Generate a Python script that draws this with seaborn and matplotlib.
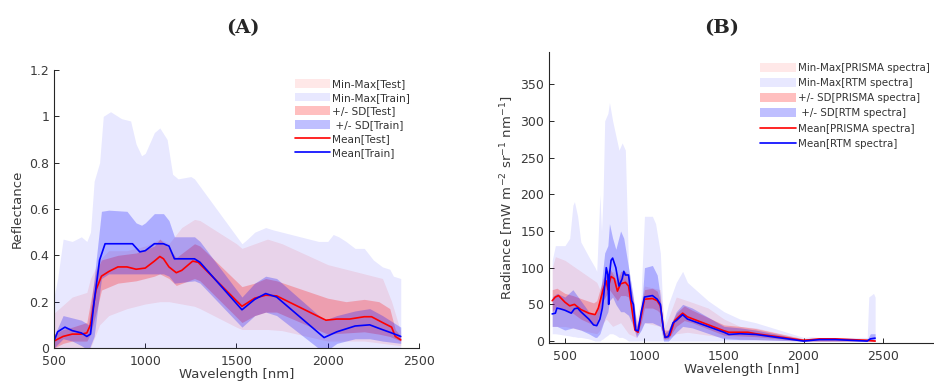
import matplotlib
matplotlib.use("Agg")
import matplotlib.pyplot as plt
import seaborn as sns
import pandas as pd

# -------------------------------
# Panel A data (reflectance)
# -------------------------------
a_mean_test_wl = [500, 550, 600, 650, 680, 700, 730, 760, 800, 850, 900, 950, 1000, 1050, 1080, 1100,
                  1130, 1170, 1200, 1260, 1290, 1530, 1600, 1660, 1720, 1990, 2050, 2120, 2200, 2240,
                  2300, 2350, 2370, 2400]
a_mean_test = [0.03, 0.05, 0.06, 0.06, 0.065, 0.10, 0.25, 0.31, 0.33, 0.35, 0.35, 0.34, 0.345, 0.375, 0.395,
               0.385, 0.35, 0.325, 0.335, 0.375, 0.37, 0.18, 0.215, 0.228, 0.225, 0.12, 0.125, 0.125, 0.135,
               0.135, 0.11, 0.09, 0.05, 0.035]

a_mean_train_wl = [500, 520, 560, 600, 650, 680, 700, 720, 750, 780, 850, 930, 970, 1000, 1050, 1100, 1130,
                   1160, 1200, 1270, 1300, 1530, 1600, 1660, 1720, 1980, 2050, 2150, 2230, 2280, 2350, 2400]
a_mean_train = [0.03, 0.07, 0.09, 0.075, 0.065, 0.05, 0.06, 0.20, 0.38, 0.45, 0.45, 0.45, 0.415, 0.42, 0.45,
                0.45, 0.44, 0.385, 0.385, 0.385, 0.37, 0.165, 0.21, 0.235, 0.22, 0.045, 0.07, 0.095, 0.10,
                0.085, 0.065, 0.05]

a_mm_train_wl = [500, 520, 550, 600, 650, 680, 700, 720, 750, 770, 810, 870, 920, 950, 980, 1000, 1050, 1080,
                 1120, 1150, 1180, 1250, 1270, 1530, 1560, 1600, 1660, 1700, 1950, 2000, 2030, 2060, 2100,
                 2150, 2200, 2250, 2300, 2340, 2360, 2400]
a_mm_train_hi = [0.22, 0.30, 0.47, 0.46, 0.48, 0.46, 0.50, 0.72, 0.80, 1.00, 1.02, 0.99, 0.98, 0.88, 0.83,
                 0.84, 0.93, 0.95, 0.90, 0.75, 0.73, 0.74, 0.73, 0.45, 0.47, 0.50, 0.52, 0.51, 0.46, 0.46,
                 0.49, 0.48, 0.46, 0.43, 0.43, 0.38, 0.35, 0.34, 0.31, 0.30]
a_mm_train_lo = [0.0, 0.0, 0.0, 0.0, 0.0, -0.01, -0.02, -0.01, 0.0, 0.0, 0.0, 0.0, 0.0, 0.0, 0.0, 0.0, 0.0,
                 0.0, 0.0, 0.0, 0.0, 0.0, 0.0, 0.0, 0.0, 0.0, 0.0, 0.0, -0.01, -0.02, -0.01, 0.0, 0.0, 0.0,
                 0.0, 0.0, 0.0, 0.0, 0.0, 0.0]

a_mm_test_wl = [500, 600, 680, 700, 750, 800, 900, 1000, 1080, 1130, 1200, 1270, 1300, 1500, 1530, 1600,
                1670, 1750, 2000, 2100, 2200, 2300, 2350, 2400]
a_mm_test_hi = [0.15, 0.22, 0.24, 0.30, 0.38, 0.42, 0.42, 0.44, 0.47, 0.45, 0.52, 0.555, 0.55, 0.45, 0.43,
                0.45, 0.47, 0.45, 0.36, 0.34, 0.32, 0.30, 0.20, 0.07]
a_mm_test_lo = [0.0, 0.0, 0.0, 0.0, 0.10, 0.14, 0.17, 0.19, 0.20, 0.20, 0.19, 0.18, 0.17, 0.09, 0.08, 0.08,
                0.08, 0.075, 0.03, 0.03, 0.03, 0.02, 0.015, 0.01]

a_sd_train_wl = [500, 550, 600, 650, 690, 720, 760, 800, 900, 950, 980, 1000, 1050, 1100, 1130, 1160, 1270,
                 1300, 1530, 1600, 1660, 1720, 1980, 2050, 2150, 2230, 2300, 2400]
a_sd_train_hi = [0.05, 0.14, 0.13, 0.12, 0.10, 0.30, 0.59, 0.595, 0.59, 0.54, 0.53, 0.54, 0.58, 0.58, 0.55,
                 0.48, 0.48, 0.46, 0.22, 0.28, 0.31, 0.30, 0.12, 0.14, 0.16, 0.17, 0.14, 0.09]
a_sd_train_lo = [0.0, 0.04, 0.03, 0.01, -0.01, 0.05, 0.30, 0.32, 0.32, 0.32, 0.32, 0.32, 0.32, 0.32, 0.31,
                 0.28, 0.29, 0.28, 0.09, 0.14, 0.155, 0.14, -0.02, 0.02, 0.04, 0.04, 0.03, 0.02]

a_sd_test_wl = [500, 550, 600, 680, 700, 730, 760, 850, 950, 1050, 1080, 1130, 1170, 1270, 1300, 1530, 1600,
                1660, 1720, 2000, 2100, 2200, 2280, 2340, 2370, 2400]
a_sd_test_hi = [0.06, 0.08, 0.09, 0.11, 0.20, 0.33, 0.38, 0.40, 0.41, 0.44, 0.47, 0.43, 0.39, 0.45, 0.44,
                0.265, 0.28, 0.30, 0.29, 0.215, 0.20, 0.21, 0.20, 0.17, 0.08, 0.05]
a_sd_test_lo = [0.0, 0.02, 0.03, 0.03, 0.06, 0.15, 0.25, 0.28, 0.29, 0.31, 0.32, 0.30, 0.27, 0.30, 0.29,
                0.11, 0.14, 0.155, 0.155, 0.06, 0.065, 0.07, 0.06, 0.05, 0.04, 0.03]

# -------------------------------
# Panel B data (radiance)
# -------------------------------
b_mean_rtm_wl = [420, 440, 450, 470, 500, 540, 560, 580, 600, 650, 680, 700, 720, 735, 750, 760, 770, 775,
                 780, 790, 800, 820, 840, 860, 870, 880, 900, 920, 930, 945, 960, 980, 1000, 1050, 1080,
                 1100, 1120, 1130, 1150, 1180, 1200, 1240, 1270, 1500, 1530, 1600, 1700, 1800, 2000, 2050,
                 2100, 2200, 2400, 2420, 2450]
b_mean_rtm = [37, 38, 45, 44, 42, 38, 44, 45, 40, 30, 22, 21, 30, 45, 75, 100, 90, 50, 90, 110, 113, 100, 75,
              85, 95, 90, 90, 55, 50, 15, 14, 40, 60, 62, 57, 50, 15, 5, 6, 25, 28, 36, 30, 12, 9, 10, 9, 6,
              0, 1, 2, 2, 0, 3, 4]

b_mean_prisma_wl = [420, 440, 460, 500, 530, 560, 600, 650, 690, 710, 740, 760, 770, 780, 790, 810, 830, 850,
                    880, 900, 920, 940, 960, 980, 1000, 1050, 1080, 1100, 1120, 1130, 1160, 1190, 1240, 1270,
                    1500, 1530, 1650, 1700, 2000, 2050, 2100, 2200, 2400, 2450]
b_mean_prisma = [55, 60, 62, 53, 48, 50, 43, 38, 36, 45, 70, 82, 70, 80, 88, 85, 68, 78, 80, 75, 45, 15, 12,
                 35, 57, 58, 55, 48, 15, 5, 8, 28, 38, 33, 14, 12, 12, 10, 1, 2, 3, 3, 1, 0]

b_mm_rtm_wl = [420, 440, 500, 530, 550, 560, 580, 600, 650, 690, 700, 720, 730, 740, 750, 770, 780, 800, 820,
               840, 860, 880, 900, 950, 970, 1000, 1050, 1070, 1100, 1120, 1150, 1200, 1240, 1270, 1400, 1500,
               1600, 1700, 2000, 2050, 2100, 2400, 2410, 2440, 2450]
b_mm_rtm_hi = [110, 130, 130, 140, 185, 190, 170, 135, 115, 100, 95, 200, 150, 200, 300, 310, 325, 300, 280,
               260, 270, 260, 100, 30, 20, 170, 170, 160, 120, 20, 50, 80, 95, 80, 55, 40, 30, 25, 5, 6, 5, 5,
               60, 65, 60]
b_mm_rtm_lo = [10, 10, 8, 7, 6, 6, 5, 5, 3, 0, 0, 0, 2, 3, 5, 8, 10, 10, 8, 5, 5, 3, 0, 0, 0, 0, 0, 0, 0, 0,
               0, 0, 0, 0, 0, 0, 0, 0, 0, 0, 0, 0, 0, 0, 0]

b_mm_prisma_wl = [420, 440, 500, 600, 700, 720, 740, 760, 800, 850, 900, 950, 1000, 1100, 1130, 1200, 1270,
                  1400, 1500, 1600, 1700, 2000, 2400, 2450]
b_mm_prisma_hi = [100, 115, 110, 95, 80, 70, 80, 90, 95, 90, 80, 30, 75, 70, 20, 60, 55, 45, 30, 20, 18, 3,
                  3, 2]
b_mm_prisma_lo = [20, 20, 20, 15, 10, 15, 25, 30, 20, 25, 10, 5, 25, 20, 2, 10, 12, 8, 5, 3, 2, 0, 0, 0]

b_sd_rtm_wl = [420, 450, 500, 550, 600, 650, 690, 700, 720, 750, 770, 780, 800, 820, 850, 870, 900, 930, 950,
               980, 1000, 1050, 1080, 1100, 1120, 1150, 1200, 1240, 1300, 1500, 1600, 1700, 2000, 2400, 2420,
               2450]
b_sd_rtm_hi = [60, 65, 60, 70, 55, 40, 35, 40, 60, 120, 130, 160, 140, 125, 150, 140, 100, 60, 20, 40, 100,
               103, 90, 60, 10, 15, 40, 50, 45, 20, 18, 15, 2, 2, 10, 10]
b_sd_rtm_lo = [20, 20, 15, 18, 15, 10, 5, 5, 10, 30, 40, 55, 60, 50, 40, 40, 35, 20, 5, 15, 25, 25, 22, 20, 0,
               0, 12, 20, 18, 3, 2, 2, 0, 0, 0, 0]

b_sd_prisma_wl = [420, 450, 500, 550, 600, 680, 700, 740, 780, 830, 850, 880, 900, 930, 950, 980, 1000, 1050,
                  1080, 1100, 1120, 1150, 1200, 1250, 1300, 1500, 1600, 1700, 2000, 2400, 2450]
b_sd_prisma_hi = [70, 72, 65, 62, 58, 52, 55, 85, 100, 80, 95, 95, 90, 55, 20, 45, 70, 72, 68, 55, 15, 15, 38,
                  48, 42, 22, 20, 17, 3, 3, 2]
b_sd_prisma_lo = [40, 48, 42, 38, 30, 22, 25, 55, 70, 55, 62, 62, 60, 35, 8, 25, 45, 45, 42, 38, 3, 3, 20, 28,
                  25, 8, 7, 6, 0, 0, 0]

labels_a = ["Min-Max[Test]", "Min-Max[Train]", "+/- SD[Test]", " +/- SD[Train]", "Mean[Test]", "Mean[Train]"]
labels_b = ["Min-Max[PRISMA spectra]", "Min-Max[RTM spectra]", "+/- SD[PRISMA spectra]",
            " +/- SD[RTM spectra]", "Mean[PRISMA spectra]", "Mean[RTM spectra]"]

# -------------------------------
# Figure setup
# -------------------------------
sns.set_style("ticks")
plt.rcParams['font.family'] = ['DejaVu Sans']

RED = "#ff0000"
BLUE = "#0000ff"
TXT = "#262626"
LBL = "#3a3a3a"

fig = plt.figure(figsize=(9.34, 3.81), dpi=100)
axA = fig.add_axes([0.0578, 0.0866, 0.3908, 0.7297])
axB = fig.add_axes([0.5878, 0.099, 0.4122, 0.765])


def draw_panel(ax, mm_test, mm_train, sd_test, sd_train, mean_test, mean_train):
    h1 = ax.fill_between(mm_test[0], mm_test[2], mm_test[1], color=RED, alpha=0.09, lw=0)
    h2 = ax.fill_between(mm_train[0], mm_train[2], mm_train[1], color=BLUE, alpha=0.09, lw=0)
    h3 = ax.fill_between(sd_test[0], sd_test[2], sd_test[1], color=RED, alpha=0.25, lw=0)
    h4 = ax.fill_between(sd_train[0], sd_train[2], sd_train[1], color=BLUE, alpha=0.25, lw=0)
    sns.lineplot(x=mean_test[0], y=mean_test[1], ax=ax, color=RED, lw=1.2)
    sns.lineplot(x=mean_train[0], y=mean_train[1], ax=ax, color=BLUE, lw=1.2)
    lines = ax.get_lines()
    return [h1, h2, h3, h4, lines[-2], lines[-1]]


hA = draw_panel(axA,
                (a_mm_test_wl, a_mm_test_hi, a_mm_test_lo),
                (a_mm_train_wl, a_mm_train_hi, a_mm_train_lo),
                (a_sd_test_wl, a_sd_test_hi, a_sd_test_lo),
                (a_sd_train_wl, a_sd_train_hi, a_sd_train_lo),
                (a_mean_test_wl, a_mean_test), (a_mean_train_wl, a_mean_train))
hB = draw_panel(axB,
                (b_mm_prisma_wl, b_mm_prisma_hi, b_mm_prisma_lo),
                (b_mm_rtm_wl, b_mm_rtm_hi, b_mm_rtm_lo),
                (b_sd_prisma_wl, b_sd_prisma_hi, b_sd_prisma_lo),
                (b_sd_rtm_wl, b_sd_rtm_hi, b_sd_rtm_lo),
                (b_mean_prisma_wl, b_mean_prisma), (b_mean_rtm_wl, b_mean_rtm))

# axes styling (MATLAB-like, box off, ticks inside)
for ax in (axA, axB):
    sns.despine(ax=ax)
    for s in ("left", "bottom"):
        ax.spines[s].set_color(TXT)
        ax.spines[s].set_linewidth(0.8)
    ax.tick_params(axis="both", which="both", direction="in", length=3.5, width=0.7,
                   colors=TXT, labelsize=9, labelcolor=LBL)
    ax.tick_params(axis="x", pad=5)
    ax.set_xlabel("Wavelength [nm]", fontsize=9.5, color=LBL, labelpad=0)

axA.set_xlim(500, 2500)
axA.set_ylim(0, 1.2)
axA.set_xticks([500, 1000, 1500, 2000, 2500])
axA.set_yticks([0, 0.2, 0.4, 0.6, 0.8, 1.0, 1.2])
axA.set_yticklabels(["0", "0.2", "0.4", "0.6", "0.8", "1", "1.2"])
axA.set_ylabel("Reflectance", fontsize=9.5, color=LBL, labelpad=4)

axB.set_xlim(400, 2820)
axB.set_ylim(-3, 394)
axB.set_xticks([500, 1000, 1500, 2000, 2500])
axB.set_yticks(range(0, 351, 50))
axB.set_ylabel("Radiance [mW m$^{-2}$ sr$^{-1}$ nm$^{-1}$]", fontsize=9.5, color=LBL, labelpad=3)

axA.legend(hA, labels_a, loc="upper left", bbox_to_anchor=(295 / 934, 1 - 79 / 381),
           bbox_transform=fig.transFigure, frameon=False, fontsize=7.6, handlelength=3.3,
           handleheight=0.9, handletextpad=0.2, labelspacing=0.35, borderpad=0, borderaxespad=0,
           labelcolor="#333333")
axB.legend(hB, labels_b, loc="upper left", bbox_to_anchor=(760 / 934, 1 - 63 / 381),
           bbox_transform=fig.transFigure, frameon=False, fontsize=7.4, handlelength=3.5,
           handleheight=0.95, handletextpad=0.2, labelspacing=0.5, borderpad=0, borderaxespad=0,
           labelcolor="#333333")

fig.text(243 / 934, 1 - 28 / 381, "(A)", ha="center", va="center", fontsize=14, fontweight="bold",
         family="DejaVu Serif")
fig.text(722 / 934, 1 - 28 / 381, "(B)", ha="center", va="center", fontsize=14, fontweight="bold",
         family="DejaVu Serif")

fig.savefig("out.png", dpi=100)
